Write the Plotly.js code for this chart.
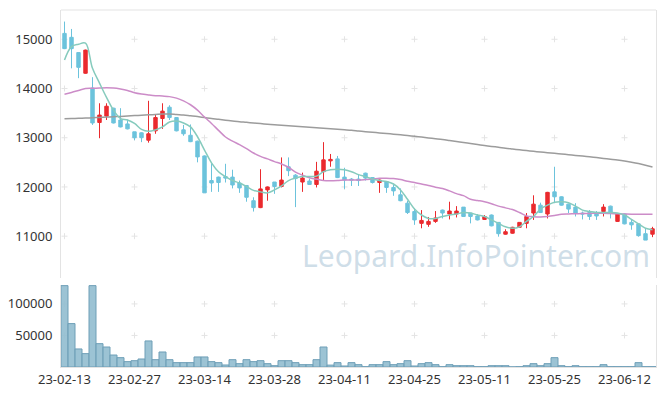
<!DOCTYPE html>
<html>
<head>
<meta charset="utf-8">
<script src="https://cdn.plot.ly/plotly-3.0.1.min.js"></script>
<style>html,body{margin:0;padding:0;background:#fff;}#chart{width:665px;height:396px;}</style>
</head>
<body>
<div id="chart"></div>
<script>
const dates = [
 "23-02-13","23-02-14","23-02-15","23-02-16","23-02-17",
 "23-02-20","23-02-21","23-02-22","23-02-23","23-02-24",
 "23-02-27","23-02-28","23-03-02","23-03-03",
 "23-03-06","23-03-07","23-03-08","23-03-09","23-03-10",
 "23-03-13","23-03-14","23-03-15","23-03-16","23-03-17",
 "23-03-20","23-03-21","23-03-22","23-03-23","23-03-24",
 "23-03-27","23-03-28","23-03-29","23-03-30","23-03-31",
 "23-04-03","23-04-04","23-04-05","23-04-06","23-04-07",
 "23-04-10","23-04-11","23-04-12","23-04-13","23-04-14",
 "23-04-17","23-04-18","23-04-19","23-04-20","23-04-21",
 "23-04-24","23-04-25","23-04-26","23-04-27","23-04-28",
 "23-05-02","23-05-03","23-05-04",
 "23-05-08","23-05-09","23-05-10","23-05-11","23-05-12",
 "23-05-15","23-05-16","23-05-17","23-05-18","23-05-19",
 "23-05-22","23-05-23","23-05-24","23-05-25","23-05-26",
 "23-05-30","23-05-31","23-06-01","23-06-02",
 "23-06-05","23-06-07","23-06-08","23-06-09",
 "23-06-12","23-06-13","23-06-14","23-06-15","23-06-16"
];
const openP = [15120,15040,14730,14310,14010,13310,13440,13600,13360,13280,
 13120,13100,12950,13140,13390,13620,13410,13160,13050,12930,
 12630,12130,12200,12210,12200,12080,12030,11720,11580,11940,
 12100,12010,12410,12240,12100,12120,12050,12310,12530,12570,
 12200,12160,12160,12280,12190,12090,12110,11990,11840,11670,
 11500,11260,11240,11300,11530,11450,11450,11590,11470,11410,
 11340,11430,11280,11040,11060,11180,11260,11470,11630,11450,
 11900,11800,11650,11590,11470,11480,11480,11500,11610,11300,
 11450,11280,11250,11050,11040];
const highP = [15360,15210,14730,14790,14230,13700,13700,13610,13600,13370,
 13120,13110,13750,13470,13700,13660,13420,13260,13270,12940,
 12640,12480,12210,12470,12350,12130,12030,11790,12360,12010,
 12100,12600,12600,12260,12290,12170,12510,12910,12670,12630,
 12390,12180,12260,12290,12190,12150,12110,12040,11970,11720,
 11570,11530,11390,11510,11540,11700,11610,11590,11470,11450,
 11430,11440,11280,11140,11190,11280,11470,11830,11680,11900,
 12410,11810,11660,11670,11500,11530,11510,11650,11620,11460,
 11460,11330,11260,11160,11190];
const lowP = [14800,14410,14210,14300,13260,12990,13360,13290,13210,13170,
 12950,12910,12900,13080,13180,13360,13130,13040,12910,12500,
 11880,11900,11900,12090,11970,11880,11700,11500,11570,11720,
 11860,11990,12220,11590,11900,12040,11990,12130,12410,12180,
 11960,12020,12020,12130,12070,11880,11880,11820,11710,11450,
 11230,11160,11190,11270,11360,11340,11380,11390,11260,11320,
 11330,11200,10990,11030,11050,11170,11160,11330,11470,11360,
 11670,11620,11470,11400,11340,11330,11330,11400,11360,11290,
 11240,11130,10990,10920,10980];
const closeP = [14810,14810,14430,14780,13300,13460,13640,13300,13220,13180,
 13000,13000,13080,13410,13540,13410,13140,13080,12920,12610,
 11880,12080,12090,12180,12040,11980,11790,11580,11960,12000,
 12010,12140,12330,12170,12180,12050,12320,12550,12560,12190,
 12140,12140,12130,12180,12090,12140,11990,11920,11720,11480,
 11330,11320,11300,11370,11470,11510,11510,11400,11400,11330,
 11400,11210,11050,11090,11180,11280,11400,11650,11480,11890,
 11800,11630,11550,11470,11450,11400,11410,11590,11470,11450,
 11250,11230,11010,10920,11150];
const volume = [129000,68800,28600,21200,129000,37000,31700,19000,14800,8500,
 10000,12700,41300,11600,23800,11600,6900,6900,6900,15900,
 15900,8500,6900,3200,11600,5300,11600,8500,10000,5300,
 2100,10000,10000,6900,3700,3700,11600,31700,3000,6900,
 1600,6900,3700,500,3700,3700,8500,3700,5300,10000,
 1600,5300,6900,3700,500,3700,2100,2100,2100,500,
 500,2100,2100,2100,200,500,2100,5300,2100,5300,
 14800,2100,500,2100,500,500,500,3700,500,500,
 500,500,6900,500,500];
const ma5 = [14580,14850,14900,14920,14410,14110,13820,13560,13390,13360,
 13290,13170,13130,13160,13220,13320,13340,13300,13220,13020,
 12750,12490,12310,12210,12130,12080,12010,11930,11900,11880,
 11940,12020,12130,12180,12210,12210,12220,12310,12350,12360,
 12350,12310,12250,12210,12160,12130,12110,12060,11940,11750,
 11550,11430,11360,11360,11400,11430,11450,11480,11470,11430,
 11400,11330,11260,11190,11160,11190,11300,11400,11550,11630,
 11690,11700,11680,11610,11530,11500,11480,11480,11480,11470,
 11430,11340,11250,11160,11130];
const ma20 = [13885,13920,13960,14000,14005,14010,14015,14010,13990,13960,
 13915,13888,13870,13855,13847,13835,13805,13750,13670,13560,
 13420,13290,13150,13015,12930,12860,12780,12690,12620,12570,
 12515,12467,12400,12300,12240,12185,12160,12130,12125,12130,
 12140,12142,12142,12150,12160,12175,12178,12170,12150,12115,
 12090,12060,12030,11995,11968,11920,11865,11823,11750,11725,
 11700,11660,11610,11575,11540,11480,11410,11395,11390,11400,
 11420,11445,11451,11455,11460,11462,11464,11466,11460,11455,
 11450,11446,11446,11446,11446];
const maLong = [13386,13390,13396,13400,13406,13412,13420,13427,13433,13441,
 13449,13457,13465,13473,13482,13482,13471,13461,13445,13429,
 13410,13390,13374,13356,13340,13325,13313,13299,13287,13274,
 13262,13252,13242,13232,13222,13212,13201,13191,13181,13171,
 13161,13151,13136,13122,13110,13098,13086,13073,13059,13045,
 13029,13013,12996,12980,12964,12944,12923,12903,12883,12862,
 12842,12824,12806,12787,12771,12755,12739,12724,12710,12696,
 12684,12670,12655,12641,12627,12613,12597,12580,12564,12548,
 12528,12503,12475,12442,12406];
const priceTicks = [11000,12000,13000,14000,15000];
const volTicks = [50000,100000];
const xTickIdx = [0,10,20,30,40,50,60,70,80];

const xTicks = xTickIdx.map(i => dates[i]);

// faint "+" grid marks at tick intersections, drawn below the traces
const crossShapes = [];
function addCross(xi, yv, yref) {
  const ln = {color:'#e4e4e4', width:1};
  crossShapes.push({type:'line', layer:'below', xref:'x', yref:yref, xsizemode:'pixel', xanchor:xi, x0:-3, x1:3, y0:yv, y1:yv, line:ln});
  crossShapes.push({type:'line', layer:'below', xref:'x', yref:yref, ysizemode:'pixel', yanchor:yv, y0:-3, y1:3, x0:xi, x1:xi, line:ln});
}
xTickIdx.forEach(i => {
  priceTicks.forEach(v => addCross(i, v, 'y'));
  volTicks.forEach(v => addCross(i, v, 'y2'));
});

const traces = [
 {type:'bar', x:dates, y:volume, xaxis:'x', yaxis:'y2',
  marker:{color:'rgba(145,188,207,0.9)', line:{color:'#6e9fb7', width:1}}, hoverinfo:'skip'},
 {type:'scatter', mode:'lines', x:dates, y:maLong, line:{color:'#9c9c9c', width:1.5, shape:'spline'}, yaxis:'y', hoverinfo:'skip'},
 {type:'scatter', mode:'lines', x:dates, y:ma20, line:{color:'#cc8cc8', width:1.5, shape:'spline'}, yaxis:'y', hoverinfo:'skip'},
 {type:'scatter', mode:'lines', x:dates, y:ma5, line:{color:'#86cbbd', width:1.5, shape:'spline'}, yaxis:'y', hoverinfo:'skip'},
 {type:'candlestick', x:dates, open:openP, high:highP, low:lowP, close:closeP, xaxis:'x', yaxis:'y',
  increasing:{line:{color:'#ea2a2e', width:1}, fillcolor:'#ea2a2e'},
  decreasing:{line:{color:'#6cc3dc', width:1}, fillcolor:'#6cc3dc'}, hoverinfo:'skip'}
];

const layout = {
 width:665, height:396,
 margin:{l:61, r:9, t:10, b:29},
 paper_bgcolor:'#fff', plot_bgcolor:'#fff',
 showlegend:false, bargap:0,
 font:{family:'Noto Sans, sans-serif', size:13, color:'#333'},
 xaxis:{type:'category', categoryorder:'array', categoryarray:dates, anchor:'y2', range:[-0.5,84.5],
        tickmode:'array', tickvals:xTicks, ticktext:xTicks, tickangle:0,
        showgrid:false, zeroline:false, showline:true, linecolor:'#e3e3e3', ticks:'', rangeslider:{visible:false},
        tickfont:{size:13, color:'#333'}},
 yaxis:{domain:[0.2493,1], range:[10150,15595], tickvals:priceTicks, tickformat:'d', showgrid:false, zeroline:false,
        showline:true, mirror:true, linecolor:'#e3e3e3', ticks:'outside', ticklen:5, tickcolor:'rgba(0,0,0,0)',
        tickfont:{size:13, color:'#333'}},
 yaxis2:{domain:[0,0.2297], range:[0,130000], tickvals:volTicks, tickformat:'d', showgrid:false, zeroline:false,
        showline:true, mirror:true, linecolor:'#e3e3e3', ticks:'outside', ticklen:5, tickcolor:'rgba(0,0,0,0)',
        tickfont:{size:13, color:'#333'}},
 shapes:[{type:'line', xref:'paper', yref:'paper', x0:0, x1:1, y0:1, y1:1, line:{color:'#e3e3e3', width:1}}].concat(crossShapes),
 annotations:[{text:'Leopard.InfoPointer.com', xref:'paper', yref:'paper', x:0.697, y:0.313, xanchor:'center', yanchor:'middle',
   showarrow:false, font:{family:'Noto Sans, sans-serif', size:30, color:'rgba(175,200,217,0.6)'}}]
};

Plotly.newPlot('chart', traces, layout, {staticPlot:true, displayModeBar:false});
</script>
</body>
</html>
